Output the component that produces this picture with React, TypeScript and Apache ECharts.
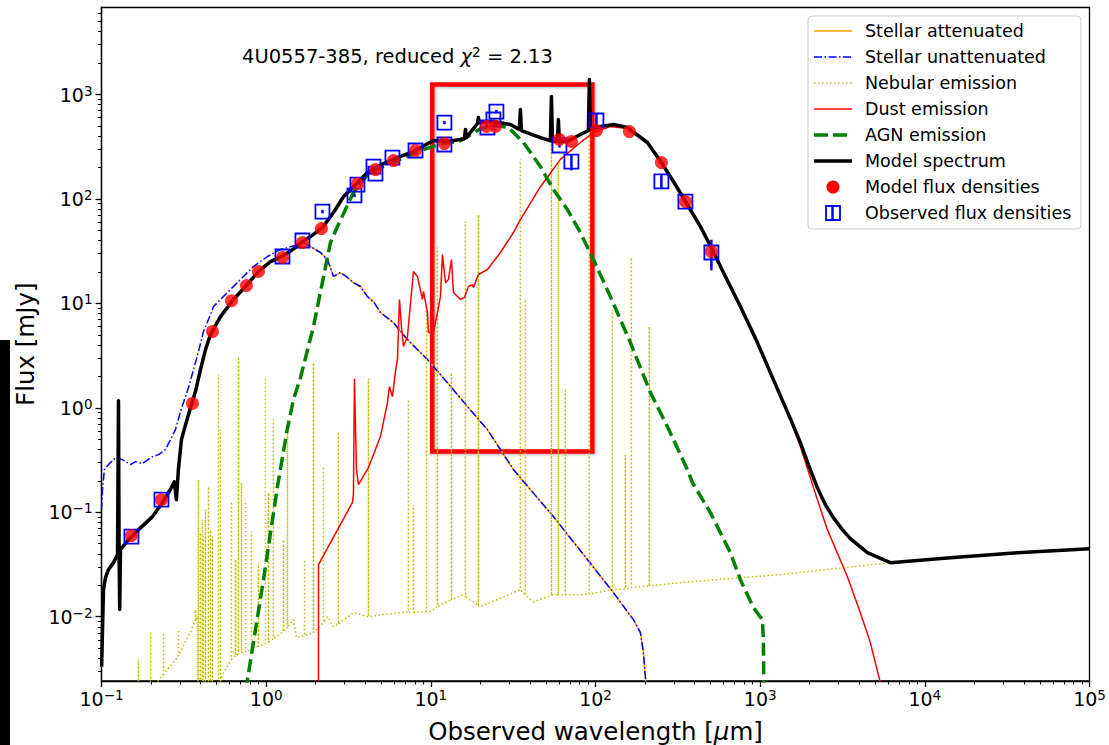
import React, { useEffect, useRef } from "react";
import * as echarts from "echarts";

// wavelength [µm], flux [mJy]
const modelSpectrum: number[][] = [
  [0.1002, 0.00332], [0.1028, 0.0181], [0.1057, 0.0236], [0.1103, 0.0282], [0.1183, 0.0329],
  [0.1251, 0.0393], [0.1268, 1.17], [0.1279, 0.0393], [0.129, 0.0117], [0.1304, 0.0438],
  [0.146, 0.0546], [0.168, 0.0681], [0.204, 0.0908], [0.235, 0.124], [0.262, 0.165],
  [0.277, 0.196], [0.285, 0.132], [0.293, 0.256], [0.306, 0.496], [0.324, 0.69],
  [0.347, 1.0], [0.372, 1.43], [0.399, 2.32], [0.428, 3.61], [0.459, 5.02], [0.528, 7.47],
  [0.633, 10.9], [0.749, 14.5], [0.898, 20.2], [1.062, 25.1], [1.274, 28.7], [1.506, 34.2],
  [1.661, 39.1], [1.858, 43.6], [2.197, 53.2], [2.563, 74.1], [2.947, 105], [3.389, 131],
  [4.122, 179], [5.155, 218], [6.538, 255], [7.84, 284], [10.37, 363], [12.61, 355],
  [15.13, 371], [16.0, 379], [16.23, 462], [16.45, 387], [19.19, 528], [19.45, 602],
  [19.73, 539], [23.99, 551], [30.43, 516], [34.5, 462], [34.99, 718], [35.5, 452],
  [46.3, 387], [53.2, 361], [54.0, 957], [54.8, 357], [58.7, 355], [59.5, 576], [60.4, 355],
  [67.5, 355], [80.9, 414], [90.5, 452], [91.8, 1392], [93.1, 462], [107.1, 494],
  [128.4, 516], [156.2, 483], [206.6, 347], [251.3, 223], [297.2, 147], [361.5, 88.4],
  [433.5, 54.4], [505.5, 34.2], [597.9, 19.7], [758.3, 9.32], [962, 4.21], [1203, 1.86],
  [1525, 0.788], [1755, 0.464], [1962, 0.286], [2225, 0.172], [2489, 0.118], [2782, 0.0888],
  [3156, 0.0681], [3529, 0.0559], [4477, 0.041], [6174, 0.0329], [14280, 0.0367],
  [36450, 0.041], [100000, 0.0448],
];

const stellarUnattenuated: number[][] = [
  [0.1, 0.106], [0.1014, 0.165], [0.1042, 0.256], [0.1103, 0.286], [0.1216, 0.333],
  [0.1341, 0.319], [0.15, 0.286], [0.1608, 0.305], [0.1774, 0.292], [0.1984, 0.333],
  [0.2219, 0.356], [0.2446, 0.398], [0.2624, 0.496], [0.2813, 0.618], [0.3018, 0.92],
  [0.3192, 1.2], [0.3375, 1.56], [0.362, 2.32], [0.388, 3.45], [0.416, 5.37], [0.4464, 7.0],
  [0.4786, 9.32], [0.528, 10.9], [0.582, 12.7], [0.698, 16.9], [0.837, 22.5], [1.018, 28.1],
  [1.221, 32.8], [1.506, 35.8], [1.685, 38.2], [1.858, 35.0], [2.136, 30.7], [2.357, 26.3],
  [2.563, 18.1], [2.826, 19.7], [3.116, 17.7], [3.389, 15.8], [3.738, 14.5], [4.122, 11.6],
  [4.482, 10.4], [4.943, 8.17], [5.929, 6.55], [7.21, 4.5], [9.54, 2.9], [12.61, 1.74],
  [16.68, 1.03], [22.07, 0.618], [31.73, 0.256], [55.5, 0.0908], [89.3, 0.0352],
  [128.4, 0.017], [169.9, 0.00936], [187.4, 0.00703], [195.4, 0.00452], [203.8, 0.002],
];

// attenuated stellar emission below 1.6 µm (above it, it coincides with the unattenuated one)
const stellarAttenuatedUV: number[][] = [
  [0.1002, 0.0033], [0.1028, 0.0181], [0.1057, 0.0236], [0.1103, 0.0282], [0.1183, 0.0329],
  [0.1251, 0.0393], [0.1279, 0.0393], [0.129, 0.0117], [0.1304, 0.0438], [0.146, 0.0546],
  [0.168, 0.0681], [0.204, 0.0908], [0.235, 0.124], [0.262, 0.165], [0.277, 0.196],
  [0.285, 0.132], [0.293, 0.256], [0.306, 0.496], [0.324, 0.69], [0.347, 1.0], [0.372, 1.43],
  [0.399, 2.3], [0.428, 3.6], [0.459, 5.0], [0.528, 7.4], [0.633, 10.8], [0.749, 14.4],
  [0.898, 20.0], [1.062, 24.9], [1.274, 28.5], [1.506, 34.0],
];

const nebularContinuum: number[][] = [
  [0.1725, 0.0016], [0.2282, 0.0026], [0.2813, 0.00387], [0.347, 0.00718], [0.3827, 0.01],
  [0.3855, 0.0016], [0.5133, 0.002], [0.543, 0.00278], [0.633, 0.00414], [0.837, 0.00505],
  [1.171, 0.00658], [1.465, 0.00936], [1.528, 0.00629], [1.938, 0.00703], [2.357, 0.01],
  [2.563, 0.00802], [3.389, 0.0109], [4.122, 0.01], [6.27, 0.0109], [9.94, 0.0112],
  [15.78, 0.0162], [20.0, 0.0125], [34.99, 0.0181], [41.98, 0.0139], [55.5, 0.0162],
  [80.9, 0.0162], [128.4, 0.0181], [327.8, 0.0212], [1327, 0.0253], [6174, 0.0329],
  [14280, 0.0367], [36450, 0.041], [100000, 0.0448],
];

// emission lines: [wavelength, continuum under the line, line peak]
const nebularLines: number[][] = [
  [0.1678, 0.0016, 0.00387], [0.1984, 0.0019, 0.00718],
  [0.2378, 0.0028, 0.00703], [0.2934, 0.0042, 0.0075], [0.3722, 0.0092, 0.0117],
  [0.388, 0.0016, 0.205], [0.399, 0.0016, 0.0638], [0.4104, 0.0016, 0.0849],
  [0.416, 0.0016, 0.0584], [0.428, 0.0016, 0.106], [0.4464, 0.0016, 0.176],
  [0.459, 0.0017, 0.0681], [0.472, 0.0017, 0.0584], [0.5133, 0.002, 2.08],
  [0.528, 0.0024, 0.618], [0.6157, 0.0039, 0.126], [0.651, 0.0042, 0.0352],
  [0.679, 0.0044, 3.09], [0.708, 0.0045, 0.192], [0.7486, 0.0046, 0.132],
  [0.814, 0.0049, 0.0652], [0.898, 0.0052, 0.0329], [0.99, 0.0055, 1.95],
  [1.033, 0.0057, 0.154], [1.107, 0.0062, 0.771], [1.274, 0.0072, 0.0546],
  [1.347, 0.0079, 0.661], [1.708, 0.0066, 0.0352], [1.938, 0.007, 2.71],
  [2.228, 0.0088, 0.273], [2.748, 0.0085, 0.592], [4.18, 0.01, 1.9], [7.31, 0.011, 1.2],
  [7.84, 0.011, 0.118], [9.4, 0.0112, 9.12], [10.97, 0.0125, 34.2], [13.34, 0.0145, 2.17],
  [16.23, 0.0155, 60.7], [19.45, 0.0128, 70.9], [34.99, 0.0181, 239], [37.5, 0.016, 10.9],
  [53.98, 0.016, 602], [59.5, 0.0162, 228], [65.7, 0.0162, 1.53], [91.8, 0.0165, 936],
  [126.6, 0.0181, 8.72], [151.9, 0.0185, 0.356], [165.2, 0.019, 27.5], [212.5, 0.0197, 6.0],
];

const dustEmission: number[][] = [
  [2.078, 0.0019], [2.078, 0.0315], [3.342, 0.124], [3.389, 0.148], [3.437, 1.9],
  [3.534, 0.256], [3.635, 0.184], [4.18, 0.268], [4.943, 0.53], [5.452, 1.12], [5.606, 1.6],
  [5.846, 1.28], [6.097, 2.22], [6.27, 2.9], [6.448, 10.9], [6.631, 6.0], [6.82, 3.86],
  [7.21, 4.81], [7.84, 20.2], [8.29, 18.1], [8.89, 10.9], [9.02, 13.0], [9.54, 8.17],
  [9.67, 5.25], [10.37, 5.25], [10.97, 8.17], [11.44, 11.6], [11.76, 29.3], [12.27, 15.8],
  [12.79, 16.9], [13.34, 26.3], [13.72, 12.7], [15.13, 10.9], [16.0, 11.4], [16.92, 14.5],
  [17.89, 15.1], [18.14, 14.2], [19.45, 18.9], [22.07, 21.1], [26.46, 30.7], [31.73, 47.7],
  [34.99, 63.5], [46.3, 131], [61.2, 239], [80.9, 347], [97.1, 432], [123.2, 494],
  [156.2, 472], [206.6, 339], [251.3, 218], [297.2, 144], [361.5, 86.5], [433.5, 53.2],
  [505.5, 33.5], [597.9, 19.3], [758.3, 9.12], [962, 4.12], [1203, 1.82], [1525, 0.771],
  [1755, 0.425], [1962, 0.245], [2225, 0.132], [2559, 0.0681], [3383, 0.0242],
  [4059, 0.0109], [4669, 0.00564], [5370, 0.00233], [5520, 0.00196],
];

const agnEmission: number[][] = [
  [0.759, 0.00196], [0.77, 0.00249], [0.963, 0.0226], [1.171, 0.176], [1.347, 0.64],
  [1.465, 1.2], [1.616, 1.95], [1.938, 6.0], [2.457, 38.2], [2.71, 54.4], [3.389, 115],
  [4.122, 170], [5.155, 205], [6.538, 240], [8.65, 290], [11.44, 335], [15.13, 360],
  [20.0, 470], [24.67, 505], [29.6, 483], [36.5, 347], [46.3, 204], [55.5, 123], [67.5, 79.1],
  [80.9, 47.7], [97.1, 26.3], [123.2, 11.6], [162.9, 4.21], [215.5, 1.4], [273.3, 0.661],
  [361.5, 0.256], [387.7, 0.192], [498.5, 0.0991], [659.3, 0.041], [758.3, 0.0226],
  [909.7, 0.0122], [1031, 0.00936], [1046, 0.00602], [1053, 0.0019],
];

const modelFluxDensities: number[][] = [
  [0.152, 0.0597], [0.2313, 0.132], [0.3568, 1.1], [0.472, 5.37], [0.6157, 10.6],
  [0.759, 14.8], [0.898, 20.2], [1.256, 27.5], [1.661, 38.2], [2.166, 52.1], [3.584, 140],
  [4.61, 191], [5.929, 233], [8.07, 291], [12.09, 339], [21.76, 494], [24.67, 494],
  [60.4, 371], [71.4, 355], [101.3, 452], [160.6, 442], [251.3, 223], [351.5, 94.4],
  [505.5, 31.3],
];

// [wavelength, flux, error]
const observedFluxDensities: number[][] = [
  [0.152, 0.0584, 0], [0.2313, 0.132, 0], [1.256, 28.1, 0], [1.661, 40.0, 0], [2.197, 75.7, 3],
  [3.437, 108, 4], [3.584, 137, 0], [4.482, 204, 0], [4.61, 175, 0], [5.846, 249, 0],
  [8.07, 291, 0], [12.09, 539, 20], [12.09, 332, 0], [22.07, 483, 0], [23.99, 576, 0],
  [25.02, 687, 25], [60.4, 325, 15], [71.4, 228, 40], [101.3, 564, 90], [251.3, 147, 22],
  [351.5, 94.4, 0], [505.5, 30.7, 10],
];

const highlightLambda = [10.2, 95.7];
const highlightFlux = [0.381, 1247];

const xRange = [0.1, 1e5];
const yRange = [0.00242, 6810];
const xTickExponents = [-1, 0, 1, 2, 3, 4, 5];
const yTickExponents = [-2, -1, 0, 1, 2, 3];

const legendLabels = [
  "Stellar attenuated",
  "Stellar unattenuated",
  "Nebular emission",
  "Dust emission",
  "AGN emission",
  "Model spectrum",
  "Model flux densities",
  "Observed flux densities",
];

const FONT = "DejaVu Sans";
const lg = (v: number) => Math.log10(v);
const toLog = (arr: number[][]) => arr.map((p) => [lg(p[0]), lg(p[1])]);

function buildNebular(): number[][] {
  const items: { l: number; pts: number[][] }[] = [];
  nebularContinuum.forEach(([l, f]) => items.push({ l, pts: [[l, f]] }));
  nebularLines.forEach(([l, b, p]) => items.push({ l, pts: [[l, b], [l, p], [l, b]] }));
  items.sort((a, b) => a.l - b.l);
  return items.flatMap((i) => i.pts);
}

function minorTicks(lo: number, hi: number): number[] {
  const out: number[] = [];
  for (let n = Math.floor(lo) - 1; n <= Math.ceil(hi); n++) {
    for (let k = 2; k <= 9; k++) {
      const v = n + Math.log10(k);
      if (v > lo && v < hi) out.push(v);
    }
  }
  return out;
}

const supLabel = (v: number) => {
  const n = Math.round(v);
  return `{b|10}{s|${n < 0 ? "\u2212" + -n : n}}`;
};

const labelRich = {
  b: { fontSize: 19, fontFamily: FONT, color: "#000", lineHeight: 22 },
  s: { fontSize: 13.5, fontFamily: FONT, color: "#000", lineHeight: 14, verticalAlign: "top" },
};

function buildOption(): any {
  const xMin = lg(xRange[0]);
  const xMax = lg(xRange[1]);
  const yMin = lg(yRange[0]);
  const yMax = lg(yRange[1]);
  const lineBase = {
    type: "line",
    showSymbol: false,
    symbol: "none",
    silent: true,
    clip: true,
    xAxisIndex: 0,
    yAxisIndex: 0,
  };
  const stellarAttenuated = stellarAttenuatedUV.concat(stellarUnattenuated.filter((p) => p[0] > 1.6));

  const legendY = (i: number) => 31 + 26 * i;
  const legendGraphics: any[] = [
    {
      type: "rect",
      shape: { x: 808, y: 16, width: 273, height: 213, r: 4 },
      style: { fill: "rgba(255,255,255,0.85)", stroke: "#cccccc", lineWidth: 1 },
    },
  ];
  const lineStyles: any[] = [
    { stroke: "#ffa500", lineWidth: 1.5 },
    { stroke: "#0000ff", lineWidth: 1.5, lineDash: [8, 2.5, 1.5, 2.5] },
    { stroke: "#bfbf00", lineWidth: 1.5, lineDash: [1.5, 2.5] },
    { stroke: "#ff0000", lineWidth: 1.5 },
    { stroke: "#008000", lineWidth: 3.5, lineDash: [14, 5] },
    { stroke: "#000000", lineWidth: 3.5 },
  ];
  lineStyles.forEach((st, i) => {
    legendGraphics.push({
      type: "line",
      shape: { x1: 814, y1: legendY(i), x2: 852, y2: legendY(i) },
      style: st,
    });
  });
  legendGraphics.push({
    type: "circle",
    shape: { cx: 833, cy: legendY(6), r: 6.5 },
    style: { fill: "#ff0000" },
  });
  legendGraphics.push({
    type: "rect",
    shape: { x: 826, y: legendY(7) - 7, width: 14, height: 14 },
    style: { fill: "none", stroke: "#0000ff", lineWidth: 1.8 },
  });
  legendGraphics.push({
    type: "line",
    shape: { x1: 832.5, y1: legendY(7) - 8, x2: 832.5, y2: legendY(7) + 8 },
    style: { stroke: "#0000ff", lineWidth: 2.5 },
  });
  legendLabels.forEach((t, i) => {
    legendGraphics.push({
      type: "text",
      x: 865,
      y: legendY(i),
      style: {
        text: t,
        fontFamily: FONT,
        fontSize: 17.5,
        fill: "#000",
        verticalAlign: "middle",
        align: "left",
      },
    });
  });

  const majorLine = { show: true, onZero: false, lineStyle: { color: "#000", width: 1.3 } };
  const hiddenLine = { show: false, onZero: false };

  return {
    animation: false,
    backgroundColor: "#ffffff",
    title: {
      text: "4U0557-385, reduced {i|\u03c7}{s|2} = 2.13",
      left: 242,
      top: 45,
      padding: 0,
      textStyle: {
        fontFamily: FONT,
        fontSize: 19.5,
        fontWeight: "normal",
        color: "#000",
        rich: {
          i: { fontFamily: FONT, fontSize: 19.5, fontStyle: "italic", color: "#000", lineHeight: 23 },
          s: { fontFamily: FONT, fontSize: 13.5, color: "#000", lineHeight: 13, verticalAlign: "top" },
        },
      },
    },
    grid: {
      left: 101.5,
      top: 7.5,
      width: 988,
      height: 673.5,
      show: true,
      borderColor: "#000",
      borderWidth: 1.3,
      backgroundColor: "transparent",
      containLabel: false,
      outerBoundsMode: "none",
    },
    xAxis: [
      {
        type: "value",
        min: xMin,
        max: xMax,
        position: "bottom",
        name: "Observed wavelength [{i|\u03bc}m]",
        nameLocation: "middle",
        nameGap: 38,
        nameTextStyle: {
          fontFamily: FONT,
          fontSize: 24.5,
          color: "#000",
          rich: { i: { fontFamily: FONT, fontSize: 24.5, fontStyle: "italic", color: "#000" } },
        },
        axisLine: majorLine,
        axisTick: { show: true, customValues: xTickExponents, length: 6, lineStyle: { color: "#000", width: 1.3 } },
        axisLabel: { customValues: xTickExponents, formatter: supLabel, margin: 7, rich: labelRich },
        splitLine: { show: false },
      },
      {
        type: "value",
        min: xMin,
        max: xMax,
        position: "bottom",
        axisLine: hiddenLine,
        axisTick: { show: true, customValues: minorTicks(xMin, xMax), length: 3.5, lineStyle: { color: "#000", width: 1 } },
        axisLabel: { show: false },
        splitLine: { show: false },
      },
    ],
    yAxis: [
      {
        type: "value",
        min: yMin,
        max: yMax,
        position: "left",
        name: "Flux [mJy]",
        nameLocation: "middle",
        nameRotate: 90,
        nameGap: 60,
        nameTextStyle: { fontFamily: FONT, fontSize: 24.5, color: "#000" },
        axisLine: majorLine,
        axisTick: { show: true, customValues: yTickExponents, length: 6, lineStyle: { color: "#000", width: 1.3 } },
        axisLabel: { customValues: yTickExponents, formatter: supLabel, margin: 9, rich: labelRich },
        splitLine: { show: false },
      },
      {
        type: "value",
        min: yMin,
        max: yMax,
        position: "left",
        axisLine: hiddenLine,
        axisTick: { show: true, customValues: minorTicks(yMin, yMax), length: 3.5, lineStyle: { color: "#000", width: 1 } },
        axisLabel: { show: false },
        splitLine: { show: false },
      },
    ],
    series: [
      {
        ...lineBase,
        name: "Stellar attenuated",
        data: toLog(stellarAttenuated),
        lineStyle: { color: "#ffa500", width: 1.5 },
        z: 2,
      },
      {
        ...lineBase,
        name: "Stellar unattenuated",
        data: toLog(stellarUnattenuated),
        lineStyle: { color: "#0000ff", width: 1.5, type: [8, 2.5, 1.5, 2.5] },
        z: 2,
      },
      {
        ...lineBase,
        name: "Nebular emission",
        data: toLog(buildNebular()),
        lineStyle: { color: "#bfbf00", width: 1.5, type: [1.5, 2.5] },
        z: 2,
      },
      {
        ...lineBase,
        name: "Dust emission",
        data: toLog(dustEmission),
        lineStyle: { color: "#ff0000", width: 1.5 },
        z: 2,
      },
      {
        ...lineBase,
        name: "AGN emission",
        data: toLog(agnEmission),
        lineStyle: { color: "#008000", width: 3.5, type: [13, 5.6] },
        z: 2,
      },
      {
        ...lineBase,
        name: "Model spectrum",
        data: toLog(modelSpectrum),
        lineStyle: { color: "#000000", width: 3.5, join: "round" },
        z: 2,
      },
      {
        type: "custom",
        name: "Observed flux densities",
        xAxisIndex: 0,
        yAxisIndex: 0,
        silent: true,
        data: observedFluxDensities.map(([l, f, e]) => [lg(l), lg(f), lg(f + e), lg(Math.max(f - e, 1e-9))]),
        encode: { x: 0, y: 1 },
        renderItem: (_params: any, api: any) => {
          const c = api.coord([api.value(0), api.value(1)]);
          const hi = api.coord([api.value(0), api.value(2)]);
          const lo = api.coord([api.value(0), api.value(3)]);
          const h = 7;
          const children: any[] = [
            {
              type: "rect",
              shape: { x: c[0] - h, y: c[1] - h, width: 2 * h, height: 2 * h },
              style: { fill: "none", stroke: "#0000ff", lineWidth: 1.8 },
            },
          ];
          if (lo[1] - hi[1] > 0.5) {
            children.push({
              type: "line",
              shape: { x1: c[0], y1: hi[1], x2: c[0], y2: lo[1] },
              style: { stroke: "#0000ff", lineWidth: 2.5 },
            });
          }
          return { type: "group", children };
        },
        z: 3,
      },
      {
        type: "scatter",
        name: "Model flux densities",
        xAxisIndex: 0,
        yAxisIndex: 0,
        silent: true,
        data: toLog(modelFluxDensities),
        symbol: "circle",
        symbolSize: 13,
        itemStyle: { color: "#ff0000" },
        z: 4,
      },
      {
        type: "line",
        name: "highlight",
        xAxisIndex: 0,
        yAxisIndex: 0,
        data: [],
        z: 6,
        markArea: {
          silent: true,
          itemStyle: {
            color: "rgba(0,0,0,0)",
            borderColor: "#ff0000",
            borderWidth: 4.5,
            shadowBlur: 3,
            shadowColor: "rgba(0,0,0,0.3)",
            shadowOffsetX: 1,
            shadowOffsetY: 1,
          },
          label: { show: false },
          data: [
            [
              { coord: [lg(highlightLambda[0]), lg(highlightFlux[0])] },
              { coord: [lg(highlightLambda[1]), lg(highlightFlux[1])] },
            ],
          ],
        },
      },
    ],
    graphic: [
      {
        type: "group",
        z: 100,
        children: legendGraphics,
      },
      {
        type: "rect",
        z: 100,
        shape: { x: 0, y: 340, width: 10, height: 405 },
        style: { fill: "#000000" },
      },
    ],
  };
}

export default function App() {
  const ref = useRef<HTMLDivElement>(null);
  useEffect(() => {
    if (!ref.current) return;
    const chart = echarts.init(ref.current, null, { renderer: "svg" });
    chart.setOption(buildOption());
    return () => chart.dispose();
  }, []);
  return (
    <div
      ref={ref}
      style={{ position: "absolute", left: 0, top: 0, width: 1109, height: 745, background: "#fff" }}
    />
  );
}
